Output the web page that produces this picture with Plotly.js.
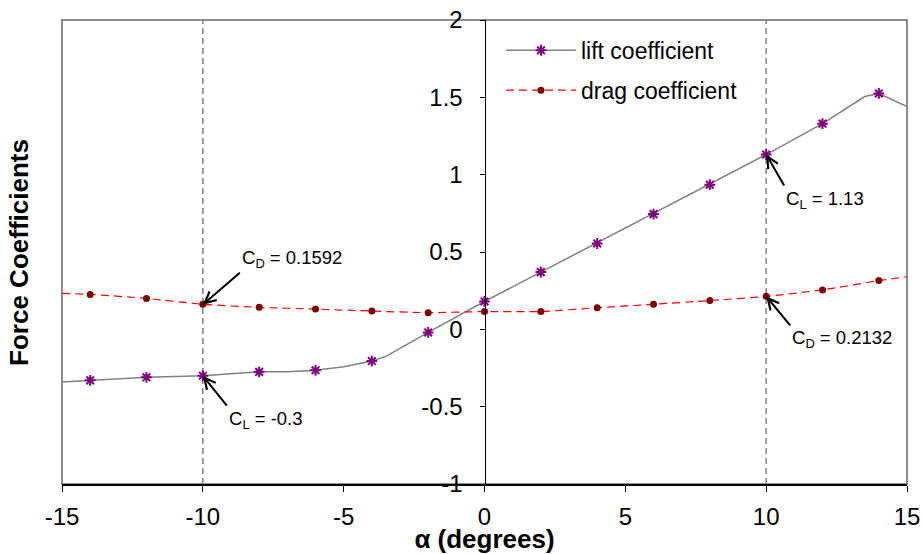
<!DOCTYPE html>
<html>
<head>
<meta charset="utf-8">
<script src="https://cdn.plot.ly/plotly-3.0.1.min.js"></script>
<style>html,body{margin:0;padding:0;background:#fff;}#chart{width:923px;height:554px;}</style>
</head>
<body>
<div id="chart"></div>
<script>
// ---- data ----
const alphaMarks = [-14, -12, -10, -8, -6, -4, -2, 0, 2, 4, 6, 8, 10, 12, 14];
const liftMarks  = [-0.33, -0.31, -0.30, -0.275, -0.265, -0.205, -0.02, 0.18, 0.37, 0.555, 0.745, 0.935, 1.13, 1.33, 1.525];
const dragMarks  = [0.226, 0.20, 0.162, 0.142, 0.131, 0.118, 0.108, 0.115, 0.115, 0.14, 0.162, 0.186, 0.2132, 0.255, 0.315];

const liftLineAlpha = [-15, -14, -12, -10, -8, -7, -6, -5, -4, -3.5, -2, 0, 2, 4, 6, 8, 10, 12, 13.5, 14, 15];
const liftLineValue = [-0.34, -0.33, -0.31, -0.30, -0.275, -0.275, -0.265, -0.242, -0.205, -0.175, -0.02, 0.18, 0.37, 0.555, 0.745, 0.935, 1.13, 1.33, 1.505, 1.525, 1.44];

const dragLineAlpha = [-15, -14, -12, -10, -8, -6, -4, -2, 0, 2, 4, 6, 8, 10, 12, 14, 15];
const dragLineValue = [0.233, 0.226, 0.20, 0.162, 0.142, 0.131, 0.118, 0.108, 0.115, 0.115, 0.14, 0.162, 0.186, 0.2132, 0.255, 0.315, 0.34];

const seriesNames = ['lift coefficient', 'drag coefficient'];
const refAlpha = [-10, 10];

const xTickVals = [-15, -10, -5, 0, 5, 10, 15];
const xTickText = ['-15', '-10', '-5', '0', '5', '10', '15'];
const yTickVals = [-1, -0.5, 0, 0.5, 1, 1.5, 2];
const yTickText = ['-1', '-0.5', '0', '0.5', '1', '1.5', '2'];

const annAlpha = [-10, -10, 10, 10];
const annValue = [0.1592, -0.3, 1.13, 0.2132];
const annLabel = ['C<sub>D</sub> = 0.1592', 'C<sub>L</sub> = -0.3', 'C<sub>L</sub> = 1.13', 'C<sub>D</sub> = 0.2132'];

const xTitle = '\u03b1 (degrees)';
const yTitle = 'Force Coefficients';

// ---- styles / layout ----
const annStyle = [
  {ax: 37, ay: -32, xanchor: 'left', yanchor: 'bottom'},
  {ax: 24, ay: 30, xanchor: 'left', yanchor: 'top'},
  {ax: 18, ay: 31, xanchor: 'left', yanchor: 'top'},
  {ax: 24, ay: 29, xanchor: 'left', yanchor: 'top'}
];

const FONT = '"Liberation Sans", Arial, sans-serif';
const liftColor = '#808080', liftMarker = '#800080';
const dragColor = '#FF0000', dragMarker = '#800000';

const liftMarkerStyle = {symbol: 'asterisk-open', size: 9, color: liftMarker, line: {color: liftMarker, width: 2}};
const dragMarkerStyle = {symbol: 'circle', size: 7, color: dragMarker};

const traces = [
  {x: liftLineAlpha, y: liftLineValue, mode: 'lines', line: {color: liftColor, width: 1.5},
   showlegend: false, hoverinfo: 'skip'},
  {x: alphaMarks, y: liftMarks, mode: 'markers', showlegend: false, marker: liftMarkerStyle},
  {x: dragLineAlpha, y: dragLineValue, mode: 'lines',
   line: {color: dragColor, width: 1.2, dash: '8px,5px', shape: 'spline', smoothing: 0.6},
   showlegend: false, hoverinfo: 'skip'},
  {x: alphaMarks, y: dragMarks, mode: 'markers', showlegend: false, marker: dragMarkerStyle},
  // legend entries
  {x: [null], y: [null], mode: 'lines+markers', name: seriesNames[0], legendgroup: 'a',
   line: {color: liftColor, width: 1.5}, marker: liftMarkerStyle},
  {x: [null], y: [null], mode: 'lines+markers', name: seriesNames[1], legendgroup: 'b',
   line: {color: dragColor, width: 1.2, dash: '8px,5px'}, marker: dragMarkerStyle}
];

const shapes = [
  {type: 'rect', xref: 'paper', yref: 'paper', x0: 0, x1: 1, y0: 0, y1: 1,
   line: {color: '#8c8c8c', width: 2}, layer: 'below'}
].concat(refAlpha.map(a => ({
  type: 'line', xref: 'x', yref: 'paper', x0: a, x1: a, y0: 0, y1: 1,
  line: {color: '#808080', width: 1.5, dash: '6px,4px'}, layer: 'below'
})));

const annotations = annAlpha.map((a, i) => ({
  x: a, y: annValue[i], xref: 'x', yref: 'y', text: annLabel[i],
  showarrow: true, arrowhead: 5, arrowsize: 1.1, arrowwidth: 2, arrowcolor: '#000',
  ax: annStyle[i].ax, ay: annStyle[i].ay, xanchor: annStyle[i].xanchor, yanchor: annStyle[i].yanchor,
  font: {family: FONT, size: 18.5, color: '#000'}
}));
annotations.push({
  text: yTitle, xref: 'paper', yref: 'paper', x: -0.051, y: 0.5, xanchor: 'center', yanchor: 'middle',
  textangle: -90, showarrow: false, font: {family: FONT, size: 26, color: '#000', weight: 'bold'}
});

const layout = {
  width: 923, height: 554,
  margin: {l: 62, r: 16, t: 20, b: 70},
  paper_bgcolor: '#fff', plot_bgcolor: '#fff',
  font: {family: FONT, color: '#000'},
  showlegend: true,
  legend: {x: 0.5195, y: 0.981, xanchor: 'left', yanchor: 'top', bgcolor: 'rgba(0,0,0,0)',
           font: {family: FONT, size: 23, color: '#000'}, itemwidth: 70, tracegroupgap: 7},
  xaxis: {range: [-15, 15], tickmode: 'array', tickvals: xTickVals, ticktext: xTickText,
          showgrid: false, zeroline: false,
          showline: true, linecolor: '#000', linewidth: 1.5,
          ticks: 'outside', ticklen: 6, tickcolor: '#000', tickwidth: 1, ticklabelstandoff: 5,
          tickfont: {family: FONT, size: 24, color: '#000'},
          title: {text: xTitle, standoff: 0, font: {family: FONT, size: 26, color: '#000', weight: 'bold'}}},
  yaxis: {range: [-1, 2], tickmode: 'array', tickvals: yTickVals, ticktext: yTickText,
          showgrid: false, zeroline: false,
          anchor: 'free', position: 0.5,
          showline: true, linecolor: '#000', linewidth: 1,
          ticks: 'outside', ticklen: 5, tickcolor: '#000', tickwidth: 1, ticklabelstandoff: 12,
          tickfont: {family: FONT, size: 24, color: '#000'}},
  shapes: shapes,
  annotations: annotations
};

Plotly.newPlot('chart', traces, layout, {displayModeBar: false, staticPlot: true});
</script>
</body>
</html>
